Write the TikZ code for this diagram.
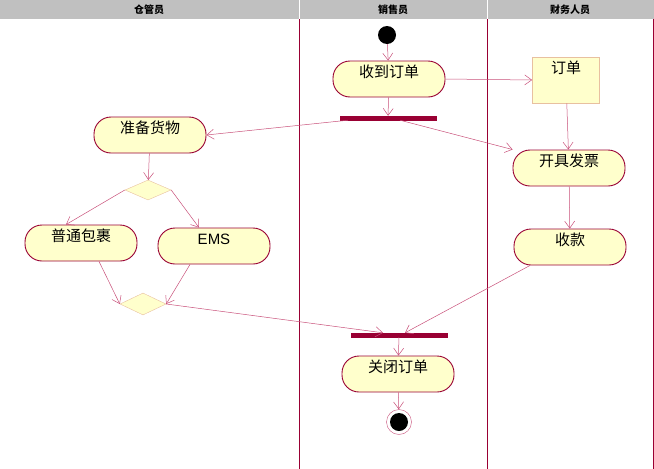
\documentclass[tikz,border=0pt]{standalone}
\usepackage{fontspec}
\setmainfont{Liberation Sans}
\newfontfamily\cjk{Noto Sans CJK SC}
\usetikzlibrary{shapes.geometric,arrows.meta}
\definecolor{bord}{HTML}{990033}
\definecolor{fillc}{HTML}{FFFFCC}
\definecolor{lnk}{HTML}{C8507A}
\definecolor{dbord}{HTML}{E8C0A0}
\definecolor{hdr}{HTML}{C0C0C0}
\begin{document}
\begin{tikzpicture}[x=1pt,y=-1pt,
 act/.style={draw=bord,line width=0.9pt,fill=fillc,rounded corners=17pt,minimum width=112pt,minimum height=36pt,inner sep=2pt,text height=11pt,text depth=15pt,font=\cjk\fontsize{15}{15}\selectfont},
 dec/.style={diamond,draw=dbord,fill=fillc,minimum width=46pt,minimum height=20pt,inner sep=0pt,aspect=2.3},
 bar/.style={fill=bord,draw=bord,minimum width=96pt,minimum height=4pt,inner sep=0pt},
 arr/.style={draw=lnk,line width=0.5pt,-{Straight Barb[length=7pt,width=10pt,line width=0.5pt]}},
 hd/.style={font=\cjk\bfseries\fontsize{10}{10}\selectfont}]
\useasboundingbox (0,0) rectangle (654,469);
\fill[hdr] (0,0) rectangle (654,19);
\draw[white] (299,0)--(299,19) (487,0)--(487,19);
\node[hd] (h1) at (149,10) {仓管员};
\node[hd] (h2) at (393,10) {销售员};
\node[hd] (h3) at (570,10) {财务人员};
\draw[bord,line width=0.8pt] (299,19)--(299,469) (487,19)--(487,469) (653,19)--(653,469);
\node[circle,fill=black,minimum size=18pt,inner sep=0pt] (s) at (387,35) {};
\node[act] (rcv) at (389,79) {收到订单};
\node[draw=dbord,line width=0.8pt,fill=fillc,minimum width=67pt,minimum height=46pt,inner sep=2pt,text height=11pt,text depth=24pt,font=\cjk\fontsize{15}{15}\selectfont] (ord) at (566,80) {订单};
\node[bar] (b1) at (388,118) {};
\node[act] (prep) at (150,135) {准备货物};
\node[act] (inv) at (569,168) {开具发票};
\node[dec] (d1) at (148,190) {};
\node[act] (pkg) at (81,243) {普通包裹};
\node[act,font=\fontsize{15}{15}\selectfont] (ems) at (214,246) {EMS};
\node[act] (pay) at (570,247) {收款};
\node[dec,minimum height=22pt] (d2) at (143,304) {};
\node[bar] (b2) at (399,335) {};
\node[act] (cls) at (398,374) {关闭订单};
\node[circle,draw=lnk,minimum size=25pt,inner sep=0pt] (e) at (399,422) {};
\node[circle,fill=black,minimum size=18pt,inner sep=0pt] at (e) {};
\draw[arr] (s)--(rcv);
\draw[arr] (rcv.east)--(ord.west);
\draw[arr] (ord)--(inv);
\draw[arr] (rcv)--(b1);
\draw[arr] ([xshift=-40pt]b1.south)--(prep.east);
\draw[arr] ([xshift=12pt]b1.south)--(inv.north west);
\draw[arr] (prep)--(d1);
\draw[arr] (d1.west)--([xshift=-15pt]pkg.north);
\draw[arr] (d1.east)--([xshift=-15pt]ems.north);
\draw[arr] ([xshift=18pt]pkg.south)--(d2.west);
\draw[arr] ([xshift=-24pt]ems.south)--(d2.east);
\draw[arr] (d2.east)--([xshift=-16pt]b2.north);
\draw[arr] ([xshift=-40pt]pay.south)--([xshift=6pt]b2.north);
\draw[arr] (inv)--(pay);
\draw[arr] (b2)--(cls);
\draw[arr] (cls)--(e);
\end{tikzpicture}
\end{document}
